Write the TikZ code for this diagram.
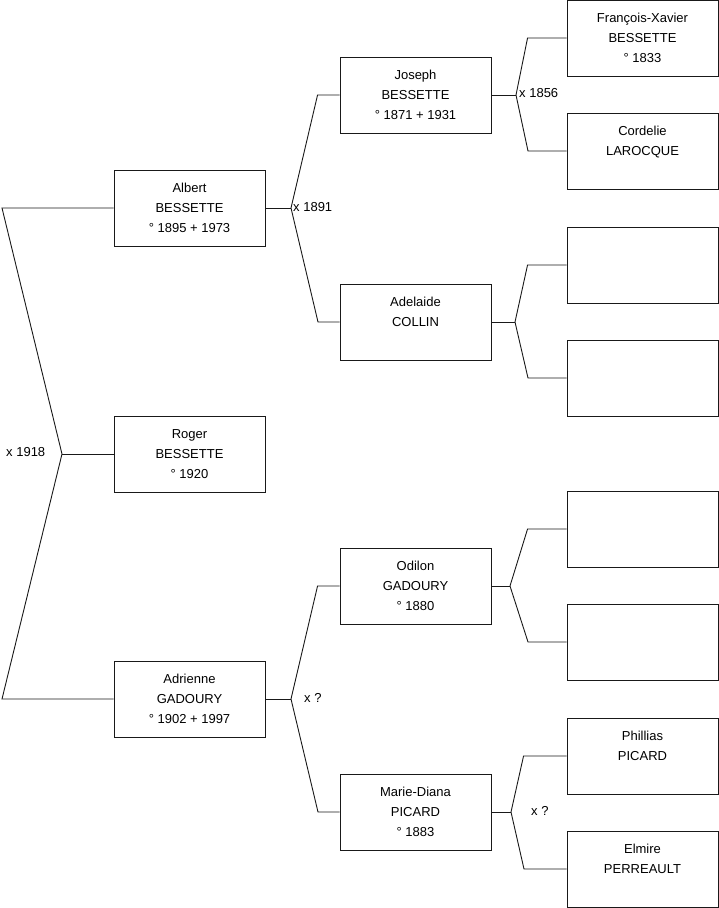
\documentclass[tikz,border=0pt]{standalone}
\usepackage{fontspec}
\setmainfont{Liberation Sans}
\usetikzlibrary{positioning}

\begin{document}
\begin{tikzpicture}[x=1pt, y=-1pt,
  person/.style={rectangle, draw=black!90, line width=0.9pt, minimum width=151pt, minimum height=76pt, inner sep=0pt, align=center, font=\fontsize{13}{20}\selectfont},
  link/.style={draw=black!90, line width=0.9pt},
  union/.style={inner sep=0pt, anchor=west, font=\fontsize{13}{16}\selectfont}]
\useasboundingbox (0,0) rectangle (719,908);

% generation 1
\node (albert) [person] at (189.5,208) {Albert\\BESSETTE\\° 1895 + 1973};
\node (roger) [person] at (189.5,454) {Roger\\BESSETTE\\° 1920};
\node (adrienne) [person] at (189.5,699) {Adrienne\\GADOURY\\° 1902 + 1997};

% generation 2
\node (joseph) [person] at (415.5,95) {Joseph\\BESSETTE\\° 1871 + 1931};
\node (adelaide) [person] at (415.5,322) {Adelaide\\COLLIN\\\phantom{° 1833}};
\node (odilon) [person] at (415.5,586) {Odilon\\GADOURY\\° 1880};
\node (mariediana) [person] at (415.5,812) {Marie-Diana\\PICARD\\° 1883};

% generation 3
\node (fxavier) [person] at (642.5,38) {François-Xavier\\BESSETTE\\° 1833};
\node (cordelie) [person] at (642.5,151) {Cordelie\\LAROCQUE\\\phantom{° 1833}};
\node (empty1) [person] at (642.5,265) {};
\node (empty2) [person] at (642.5,378) {};
\node (empty3) [person] at (642.5,529) {};
\node (empty4) [person] at (642.5,642) {};
\node (phillias) [person] at (642.5,756) {Phillias\\PICARD\\\phantom{° 1833}};
\node (elmire) [person] at (642.5,869) {Elmire\\PERREAULT\\\phantom{° 1833}};

% forks
\coordinate (top1918) at (2,208);
\coordinate (bot1918) at (2,699);
\coordinate (f1918) at (62,454);
\coordinate (f1891) at (291,208);
\coordinate (fadr) at (291,699);
\coordinate (f1856) at (516,95);
\coordinate (fade) at (515,322);
\coordinate (fodi) at (510,586);
\coordinate (fmar) at (511,812);

\draw [link] (albert.west) -- (top1918) -- (f1918) -- (bot1918) -- (adrienne.west);
\draw [link] (f1918) -- (roger.west);

\draw [link] (albert.east) -- (f1891);
\draw [link] (joseph.west) -- ++(-22,0) -- (f1891) -- (318,322) -- (adelaide.west);
\draw [link] (adrienne.east) -- (fadr);
\draw [link] (odilon.west) -- ++(-22,0) -- (fadr) -- (318,812) -- (mariediana.west);

\draw [link] (joseph.east) -- (f1856);
\draw [link] (fxavier.west) -- ++(-39,0) -- (f1856) -- (528,151) -- (cordelie.west);
\draw [link] (adelaide.east) -- (fade);
\draw [link] (empty1.west) -- ++(-39,0) -- (fade) -- (528,378) -- (empty2.west);
\draw [link] (odilon.east) -- (fodi);
\draw [link] (empty3.west) -- ++(-39,0) -- (fodi) -- (528,642) -- (empty4.west);
\draw [link] (mariediana.east) -- (fmar);
\draw [link] (phillias.west) -- ++(-43,0) -- (fmar) -- (524,869) -- (elmire.west);

% unions
\node (u1918) [union] at (6,452) {x 1918};
\node (u1891) [union] at (293,207) {x 1891};
\node (u1856) [union] at (519,93) {x 1856};
\node (uadr) [union] at (304,698) {x ?};
\node (umar) [union] at (531,811) {x ?};
\end{tikzpicture}
\end{document}
